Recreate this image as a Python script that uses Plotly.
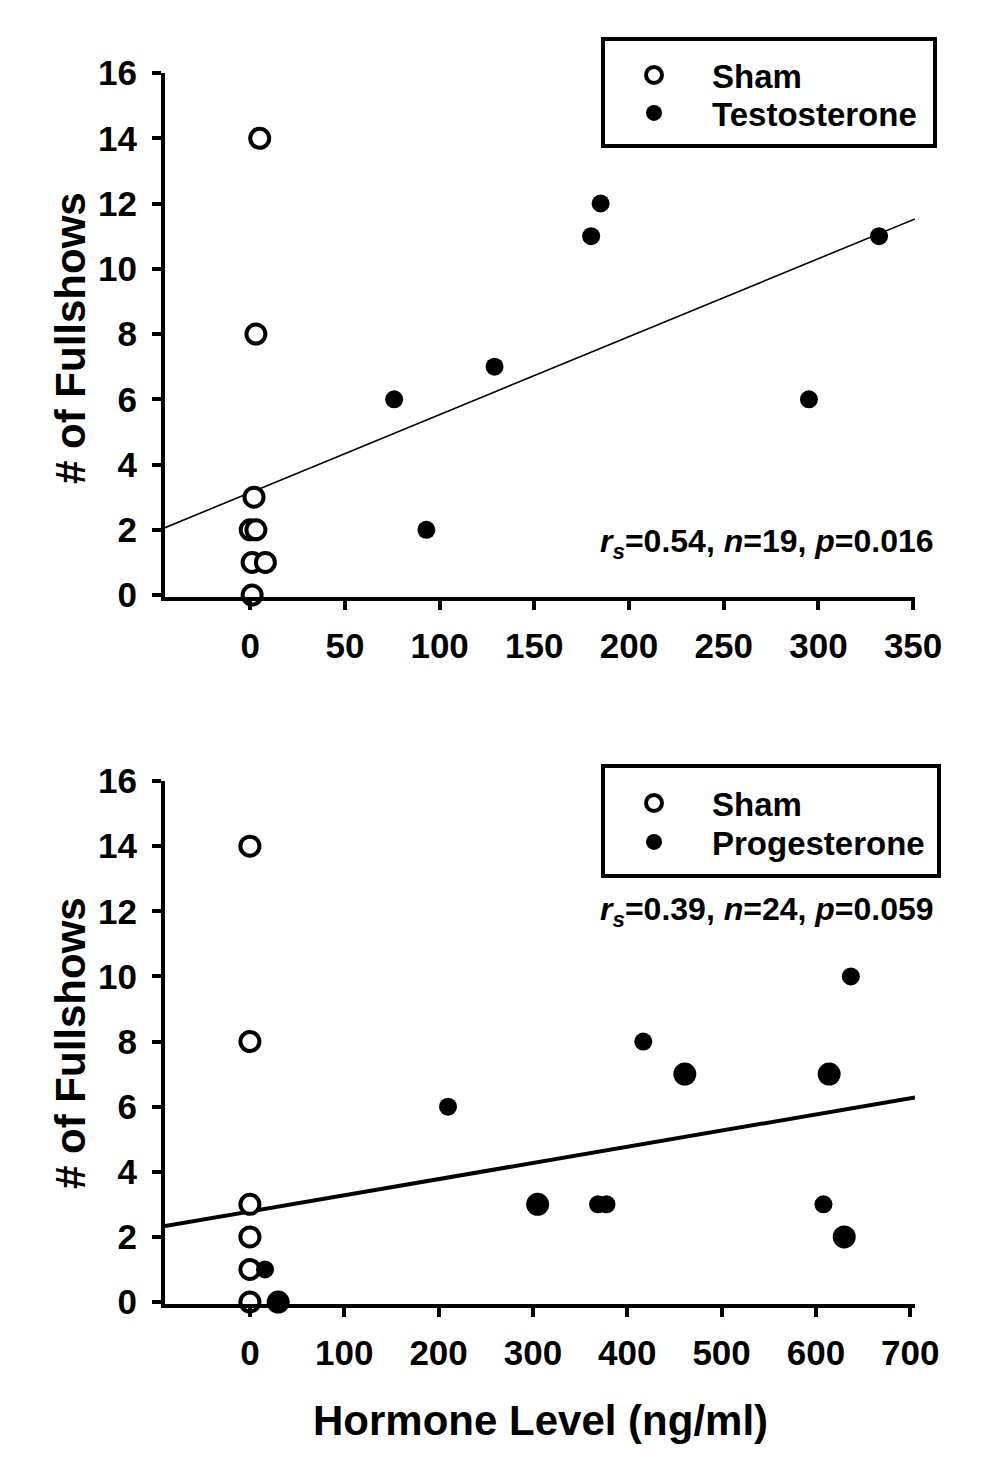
import plotly.graph_objects as go
import numpy as np

# The page body has an 8px default margin; the figure fills the rest.
OFF = 8
W, H = 984 - OFF, 1468 - OFF

# ---------------- data ----------------
# Top panel: Sham vs Testosterone
testo_sham_x = [5, 3, 2, 0, 3, 1, 8, 1]
testo_sham_y = [14, 8, 3, 2, 2, 1, 1, 0]
testo_x = [76, 93, 129, 180, 185, 295, 332]
testo_y = [6, 2, 7, 11, 12, 6, 11]
testo_fit_intercept = 3.14
testo_fit_slope = 0.0239
testo_stats = ["0.54", "19", "0.016"]

# Bottom panel: Sham vs Progesterone
prog_sham_x = [0, 0, 0, 0, 0, 0]
prog_sham_y = [14, 8, 3, 2, 1, 0]
prog_x = [16, 30, 210, 305, 369, 378, 417, 461, 608, 614, 630, 637]
prog_y = [1, 0, 6, 3, 3, 3, 8, 7, 3, 7, 2, 10]
prog_count = [1, 2, 1, 2, 1, 1, 1, 2, 1, 2, 2, 1]   # overlapping animals
prog_fit_intercept = 2.78
prog_fit_slope = 0.00497
prog_stats = ["0.39", "24", "0.059"]

y_ticks = [0, 2, 4, 6, 8, 10, 12, 14, 16]
top_x_ticks = [0, 50, 100, 150, 200, 250, 300, 350]
bottom_x_ticks = [0, 100, 200, 300, 400, 500, 600, 700]
top_x_range = [-45, 351]
bottom_x_range = [-90, 705]
y_range = [-0.06, 16]

y_title = "# of Fullshows"
x_title = "Hormone Level (ng/ml)"

# ---------------- helpers ----------------
FONT = "Liberation Sans, Arial, sans-serif"


def px_x(p):
    return (p - OFF) / W


def px_y(p):
    return 1 - (p - OFF) / H


fig = go.Figure()

sham_marker = dict(symbol="circle", size=19, color="white",
                   line=dict(color="black", width=4))

# Top panel traces
fit_x_top = np.array(top_x_range, dtype=float)
fig.add_trace(go.Scatter(
    x=fit_x_top, y=testo_fit_intercept + testo_fit_slope * fit_x_top,
    mode="lines", line=dict(color="black", width=1.6),
    showlegend=False, xaxis="x", yaxis="y", hoverinfo="skip"))
fig.add_trace(go.Scatter(
    x=testo_sham_x, y=testo_sham_y, mode="markers", name="Sham",
    marker=sham_marker, cliponaxis=False, xaxis="x", yaxis="y",
    legend="legend"))
fig.add_trace(go.Scatter(
    x=testo_x, y=testo_y, mode="markers", name="Testosterone",
    marker=dict(symbol="circle", size=18, color="black", opacity=1,
                line=dict(width=0)),
    cliponaxis=False, xaxis="x", yaxis="y", legend="legend2"))

# Bottom panel traces
fit_x_bot = np.array(bottom_x_range, dtype=float)
fig.add_trace(go.Scatter(
    x=fit_x_bot, y=prog_fit_intercept + prog_fit_slope * fit_x_bot,
    mode="lines", line=dict(color="black", width=4),
    showlegend=False, xaxis="x2", yaxis="y2", hoverinfo="skip"))
fig.add_trace(go.Scatter(
    x=prog_sham_x, y=prog_sham_y, mode="markers", name="Sham",
    marker=sham_marker, cliponaxis=False, xaxis="x2", yaxis="y2",
    legend="legend3"))
fig.add_trace(go.Scatter(
    x=prog_x, y=prog_y, mode="markers", name="Progesterone",
    marker=dict(symbol="circle",
                size=[18 if c == 1 else 23 for c in prog_count],
                color="black", opacity=1, line=dict(width=0)),
    cliponaxis=False, xaxis="x2", yaxis="y2", legend="legend4"))

tickfont = dict(family=FONT, size=35, color="black", weight="bold")
common_axis = dict(showline=True, linecolor="black", linewidth=4,
                   ticks="outside", ticklen=9, tickwidth=4, tickcolor="black",
                   showgrid=False, zeroline=False, tickfont=tickfont,
                   automargin=False)

legend_font = dict(family=FONT, size=33, color="black", weight="bold")


def make_legend(row_y):
    return dict(x=px_x(596), y=px_y(row_y), xanchor="left", yanchor="middle",
                borderwidth=0, bgcolor="rgba(0,0,0,0)", font=legend_font,
                itemwidth=106, tracegroupgap=0)


fig.update_layout(
    width=W, height=H,
    margin=dict(l=0, r=0, t=0, b=0, autoexpand=False),
    paper_bgcolor="white", plot_bgcolor="white",
    xaxis=dict(domain=[px_x(165), px_x(915)], range=top_x_range,
               tickvals=top_x_ticks, anchor="y", ticklabelstandoff=6,
               **common_axis),
    yaxis=dict(domain=[px_y(597), px_y(73)], range=y_range,
               tickvals=y_ticks, anchor="x", ticklabelstandoff=8,
               **common_axis),
    xaxis2=dict(domain=[px_x(165), px_x(915)], range=bottom_x_range,
                tickvals=bottom_x_ticks, anchor="y2", ticklabelstandoff=6,
                **common_axis),
    yaxis2=dict(domain=[px_y(1304), px_y(781)], range=y_range,
                tickvals=y_ticks, anchor="x2", ticklabelstandoff=8,
                **common_axis),
    legend=make_legend(75),
    legend2=make_legend(113),
    legend3=make_legend(803),
    legend4=make_legend(842),
    showlegend=True,
)

# legend frames
fig.add_shape(type="rect", xref="paper", yref="paper",
              x0=px_x(603), x1=px_x(935), y0=px_y(39), y1=px_y(146),
              line=dict(color="black", width=4))
fig.add_shape(type="rect", xref="paper", yref="paper",
              x0=px_x(603), x1=px_x(939), y0=px_y(766), y1=px_y(876),
              line=dict(color="black", width=4))


def stats_text(s):
    return ("<i>r<sub>s</sub></i>=" + s[0] + ", <i>n</i>=" + s[1] +
            ", <i>p</i>=" + s[2])


ann_font = dict(family=FONT, size=32, color="black", weight="bold")
title_font = dict(family=FONT, size=42, color="black", weight="bold")
fig.add_annotation(x=px_x(936), y=px_y(543), xref="paper", yref="paper",
                   xanchor="right", yanchor="middle", showarrow=False,
                   text=stats_text(testo_stats), font=ann_font)
fig.add_annotation(x=px_x(936), y=px_y(911), xref="paper", yref="paper",
                   xanchor="right", yanchor="middle", showarrow=False,
                   text=stats_text(prog_stats), font=ann_font)
fig.add_annotation(x=px_x(70), y=px_y(338), xref="paper", yref="paper",
                   xanchor="center", yanchor="middle", showarrow=False,
                   textangle=-90, text=y_title, font=title_font)
fig.add_annotation(x=px_x(70), y=px_y(1043), xref="paper", yref="paper",
                   xanchor="center", yanchor="middle", showarrow=False,
                   textangle=-90, text=y_title, font=title_font)
fig.add_annotation(x=px_x(540), y=px_y(1420), xref="paper", yref="paper",
                   xanchor="center", yanchor="middle", showarrow=False,
                   text=x_title, font=title_font)

fig.write_html("out.html")
